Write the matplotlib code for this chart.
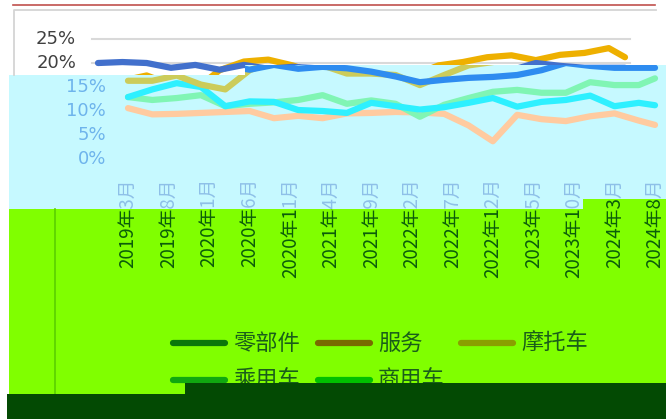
import matplotlib
matplotlib.use('Agg')
import matplotlib.pyplot as plt
import matplotlib.transforms as mtransforms
from matplotlib.patches import Polygon
from matplotlib.lines import Line2D
from matplotlib.transforms import Bbox

plt.rcParams['font.family'] = ['Noto Sans CJK SC', 'DejaVu Sans']

W, H = 666, 419

# data (quarterly readings, share in %)
dates = ['2019-03', '2019-06', '2019-09', '2019-12', '2020-03', '2020-06', '2020-09', '2020-12',
         '2021-03', '2021-06', '2021-09', '2021-12', '2022-03', '2022-06', '2022-09', '2022-12',
         '2023-03', '2023-06', '2023-09', '2023-12', '2024-03', '2024-06', '2024-08']
parts = [20.0, 20.2, 20.0, 19.0, 19.6, 18.6, 19.6, 18.8, 19.2, 18.9, 18.2, 17.2,
         16.0, 16.5, 16.9, 17.1, 17.5, 18.5, 20.0, 19.4, 19.0, 19.0, 19.0]
service = [10.6, 9.3, 9.4, 9.6, 9.8, 10.0, 8.5, 9.0, 8.5, 9.5, 9.6, 9.8,
           9.7, 9.4, 7.0, 3.7, 9.2, 8.3, 7.9, 8.9, 9.5, 8.0, 7.1]
motorbike = [12.9, 12.3, 12.7, 13.3, 11.0, 11.5, 11.8, 12.3, 13.3, 11.5, 12.2, 11.5,
             8.8, 11.3, 12.7, 14.0, 14.4, 13.8, 13.8, 16.0, 15.4, 15.4, 16.8]
passenger = [16.3, 16.3, 17.4, 15.5, 14.5, 18.5, 20.3, 20.7, 19.5, 17.8, 17.8, 17.5,
             15.4, 17.5, 19.5, 20.2, 21.2, 21.6, 20.6, 21.7, 22.1, 23.1, 21.2]
commercial = [12.9, 14.5, 15.8, 15.0, 11.0, 12.0, 11.9, 10.2, 10.0, 9.6, 11.7, 11.0,
              10.3, 10.8, 11.7, 12.7, 10.9, 11.9, 12.3, 13.2, 11.0, 11.7, 11.2]

names = ['零部件', '服务', '摩托车', '乘用车', '商用车']
series = [parts, service, motorbike, passenger, commercial]
top_colors = ['#4270CC', '#ED7D31', '#A5A5A5', '#EEB000', '#5B9BD5']
low_colors = ['#2E8CF0', '#FFCBA0', '#80F5B4', '#CCCC5A', '#2EF0FF']
legend_colors = ['#0A780A', '#786A00', '#8A9F00', '#10A810', '#00C000']

xlabels = ['2019年3月', '2019年8月', '2020年1月', '2020年6月', '2020年11月', '2021年4月',
           '2021年9月', '2022年2月', '2022年7月', '2022年12月', '2023年5月', '2023年10月',
           '2024年3月', '2024年8月']
yticks = [0, 5, 10, 15, 20, 25]


def month_idx(y, m):
    return (y - 2019) * 12 + m - 3


xs = [month_idx(int(d[:4]), int(d[5:])) for d in dates]
xt = []
for lab in xlabels:
    y, rest = lab.split('年')
    xt.append(month_idx(int(y), int(rest[:-1])))

fig = plt.figure(figsize=(W / 100, H / 100), dpi=100)
pix = mtransforms.Affine2D().scale(1, -1).translate(0, H)  # pixel coords, top-left origin

# background regions
cyan_pts = [(9, 75), (245, 75), (245, 65), (666, 65), (666, 209), (9, 209)]
lime_pts = [(9, 209), (583, 209), (583, 199), (666, 199), (666, 394), (9, 394)]
dark_pts = [(7, 394), (185, 394), (185, 383), (666, 383), (666, 419), (7, 419)]
top_pts = [(0, 0), (666, 0), (666, 65), (245, 65), (245, 75), (0, 75)]

fig.add_artist(Polygon(cyan_pts, closed=True, transform=pix, fc='#C6F9FF', ec='none', zorder=-5))
fig.add_artist(Polygon(lime_pts, closed=True, transform=pix, fc='#80FF00', ec='none', zorder=-4))
fig.add_artist(Polygon(dark_pts, closed=True, transform=pix, fc='#034A03', ec='none', zorder=10))

fig.add_artist(Line2D([13, 655], [5, 5], transform=pix, color='#C0504D', lw=1.2))
fig.add_artist(Line2D([14, 14, 656], [75, 10, 10], transform=pix, color='#D4D4D4', lw=1.3))
fig.add_artist(Line2D([55, 55], [209, 394], transform=pix, color='#5AD000', lw=1.2, zorder=-3))

# plot area
x_first, x_last = 128, 655
s = (x_last - x_first) / (xs[-1] - xs[0])
ax_l, ax_r, ax_b, ax_t = 60, 666, 159, 34
ax = fig.add_axes([ax_l / W, 1 - ax_b / H, (ax_r - ax_l) / W, (ax_b - ax_t) / H])
ax.set_xlim(xs[0] - (x_first - ax_l) / s, xs[-1] + (ax_r - x_last) / s)
ax.set_ylim(0, (ax_b - ax_t) / 4.8)
ax.axis('off')

top_clip = Polygon(top_pts, closed=True, transform=pix)
low_clip = Polygon(cyan_pts, closed=True, transform=pix)
shift_left = ax.transData + mtransforms.Affine2D().translate(-30, 0)  # upper band sits 30 px left

ytr = mtransforms.blended_transform_factory(pix, ax.transData)
for v in (20, 25):
    ln, = ax.plot([92, 630], [v, v], transform=ytr, color='#D9D9D9', lw=1.5, zorder=1)
    ln.set_clip_path(top_clip)

order = [1, 2, 4, 3, 0]
for i in order:
    ln, = ax.plot(xs, series[i], color=top_colors[i], lw=4.5, solid_joinstyle='round',
                  solid_capstyle='round', zorder=3, transform=shift_left)
    ln.set_clip_path(top_clip)
    ln2, = ax.plot(xs, series[i], color=low_colors[i], lw=4.5, solid_joinstyle='round',
                   solid_capstyle='round', zorder=3)
    ln2.set_clip_path(low_clip)

# y tick labels
for v in yticks:
    if v >= 20:
        ax.text(76, v, f'{v}%', transform=ytr, ha='right', va='center', fontsize=13,
                color='#404040', family=['DejaVu Sans'])
    else:
        ax.text(106, v, f'{v}%', transform=ytr, ha='right', va='center', fontsize=13,
                color='#6EB4EC', family=['DejaVu Sans'])

# x tick labels
xtr = mtransforms.blended_transform_factory(ax.transData, pix)
for m, lab in zip(xt, xlabels):
    xpix = x_first + (m - xs[0]) * s
    edge = 199 if xpix > 583 else 209
    t1 = ax.text(m, 178, lab, transform=xtr, rotation=90, ha='center', va='top',
                 fontsize=13.5, color='#8EC0E8', clip_on=True)
    t1.set_clip_box(Bbox([[0, H - edge], [W, H]]))
    t2 = ax.text(m, 178, lab, transform=xtr, rotation=90, ha='center', va='top',
                 fontsize=13.5, color='#0B5D0B', clip_on=True)
    t2.set_clip_box(Bbox([[0, 0], [W, H - edge]]))

# legend
pos = [(170, 343), (315, 343), (458, 343), (170, 380), (315, 380)]
for (lx, ly), name, col in zip(pos, names, legend_colors):
    fig.add_artist(Line2D([lx + 3, lx + 55], [ly, ly], transform=pix, color=col, lw=4.5,
                          solid_capstyle='round', zorder=3))
    fig.text(lx + 63, ly, name, transform=pix, ha='left', va='center', fontsize=16,
             color='#1A5E1A', zorder=3)

fig.savefig('out.png', dpi=100)
